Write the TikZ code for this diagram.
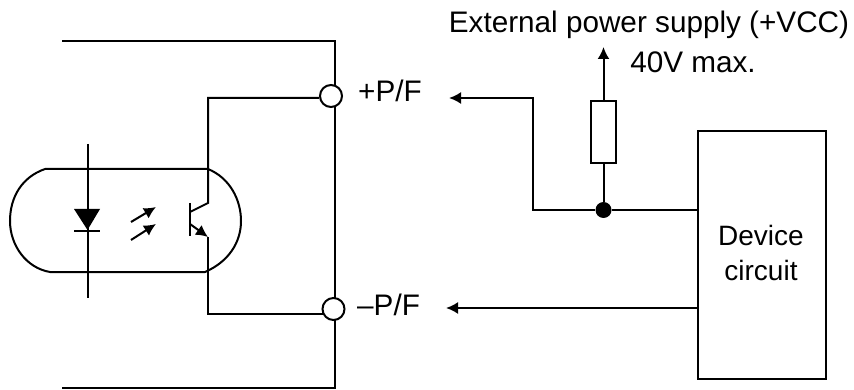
\documentclass[tikz,border=0pt]{standalone}
\usepackage{fontspec}
\setmainfont{Liberation Sans}
\usetikzlibrary{calc}
\usetikzlibrary{arrows.meta}
\tikzset{
  wire/.style={line width=2pt},
  pin/.style={circle,draw,line width=2pt,minimum size=22pt,inner sep=0pt},
  junction/.style={circle,fill=black,minimum size=16pt,inner sep=0pt},
  part/.style={draw,line width=2pt,inner sep=0pt},
  lbl/.style={font=\fontsize{29.7}{35}\selectfont,inner sep=0pt},
  lblsmall/.style={font=\fontsize{28}{35}\selectfont,inner sep=0pt},
  tip/.style={-{Latex[length=12pt,width=12pt]}}
}
\begin{document}
\begin{tikzpicture}[x=1pt,y=-1pt]
      \useasboundingbox (0,0) rectangle (854,390);
      % terminals
      \node[pin] (pplus) at (331,96) {};
      \node[pin] (pminus) at (333.5,309) {};
      \coordinate (topl) at (62,41);
      \coordinate (topr) at (335,41);
      \coordinate (botl) at (62,388);
      \coordinate (botr) at (335,388);
      \draw[wire] (topl) -- (topr) -- (335,86);
      \draw[wire] (335,107) -- (335,298);
      \draw[wire] (335,320) -- (botr) -- (botl);
      % optocoupler
      \draw[wire] (45,169) -- (208,169) .. controls (230,178) and (241,200) .. (241,221)
        .. controls (241,243) and (228,262) .. (205,272) -- (50,272)
        .. controls (26,268) and (10,245) .. (10,221)
        .. controls (10,197) and (22,177) .. (45,169);
      \coordinate (dtop) at (87.5,144);
      \coordinate (dbot) at (87.5,298);
      \draw[wire] (dtop) -- (dbot);
      \fill (74,209) -- (100,209) -- (87.5,230) -- cycle;
      \draw[wire] (74,231) -- (100,231);
      \draw[wire,tip] (131,222) -- (156,207);
      \draw[wire,tip] (131,240) -- (156,224);
      \draw[wire] (190,203) -- (190,236);
      \coordinate (coll) at (208,203);
      \coordinate (emit) at (208,237);
      \coordinate (pfa) at (449,98);
      \coordinate (pfb) at (446,308);
      \coordinate (pmin) at (323,314);
      \draw[wire] (190,212) -- (coll) -- (208,98) -- (pplus.west |- pfa);
      \draw[wire,tip] (190,224) -- (emit);
      \draw[wire] (emit) -- (208,314) -- (pmin);
      % device side
      \node[part,minimum width=128pt,minimum height=248pt] (dev) at (761.5,255) {};
      \node[part,minimum width=25pt,minimum height=62pt] (res) at (603.5,132) {};
      \node[junction] (jn) at (603.5,210) {};
      \coordinate (vcc) at (603.5,47);
      \draw[wire,tip] (jn) -- (533,210) -- (533,98) -- (pfa);
      \draw[wire,tip] (dev.west |- pfb) -- (pfb);
      \draw[wire] (jn) -- (dev.west |- jn);
      \draw[wire] (jn) -- (res);
      \draw[wire,tip] (res) -- (vcc);
      % labels
      \node[lbl] (ext) at (649,25) {External power supply (+VCC)};
      \node[lbl] (vmax) at (693,62) {40V max.};
      \node[lbl,anchor=west] (lplus) at (358,91) {+P/F};
      \node[lbl,anchor=west] (lminus) at (357,305) {–P/F};
      \node[lblsmall,align=center] (devt) at (761,253) {Device\\circuit};
    \end{tikzpicture}
\end{document}
